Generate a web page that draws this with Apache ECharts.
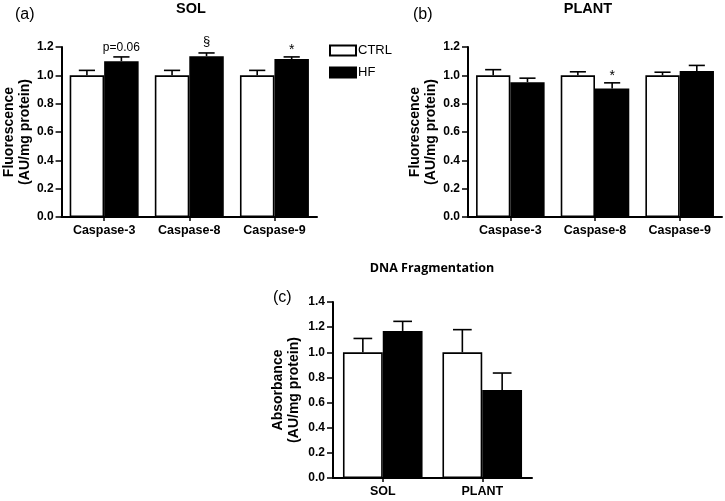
<!DOCTYPE html>
<html><head><meta charset="utf-8">
<script src="https://cdn.jsdelivr.net/npm/echarts@6/dist/echarts.min.js"></script>
<style>html,body{margin:0;padding:0;background:#fff}#c{width:725px;height:501px}</style>
</head><body><div id="c"></div>
<script>
// ---- data ----
var caspCats = ['Caspase-3', 'Caspase-8', 'Caspase-9'];
var dnaCats = ['SOL', 'PLANT'];
var yTicksA = [0, 0.2, 0.4, 0.6, 0.8, 1.0, 1.2];
var yTicksC = [0, 0.2, 0.4, 0.6, 0.8, 1.0, 1.2, 1.4];

var solCtrl = [1.0, 1.0, 1.0];
var solCtrlErr = [0.035, 0.035, 0.035];
var solHf = [1.10, 1.135, 1.115];
var solHfErr = [0.03, 0.023, 0.015];
var solHfNote = ['p=0.06', '§', '*'];

var plantCtrl = [1.0, 1.0, 1.0];
var plantCtrlErr = [0.04, 0.025, 0.022];
var plantHf = [0.952, 0.907, 1.03];
var plantHfErr = [0.028, 0.04, 0.04];
var plantHfNote = ['', '*', ''];

var dnaCtrl = [1.0, 1.0];
var dnaCtrlErr = [0.11, 0.18];
var dnaHf = [1.17, 0.70];
var dnaHfErr = [0.076, 0.135];

var FONT = 'Liberation Sans';
var GAP_AB = 0.19, GAP_C = 0.20;

function errSeries(name, gi, vals, errs, notes, sign, gap, noteStyle) {
  var data = vals.map(function (v, i) { return [i, v, errs[i]]; });
  return {
    type: 'custom', name: name + '_err', xAxisIndex: gi, yAxisIndex: gi, z: 5,
    silent: true, tooltip: { show: false },
    data: data,
    renderItem: function (params, api) {
      var x = api.value(0), v = api.value(1), e = api.value(2);
      var base = api.coord([x, v]);
      var top = api.coord([x, v + e]);
      var bw = api.size([1, 0])[0] * (1 - gap) / 2;
      var cx = base[0] + sign * bw / 2;
      var capW = bw * 0.47;
      var st = { stroke: '#000', lineWidth: 1.6 };
      var ch = [
        { type: 'line', shape: { x1: cx, y1: base[1], x2: cx, y2: top[1] }, style: st },
        { type: 'line', shape: { x1: cx - capW / 2, y1: top[1], x2: cx + capW / 2, y2: top[1] }, style: st }
      ];
      var n = notes ? notes[params.dataIndex] : '';
      if (n) {
        var s = noteStyle[n] || noteStyle['default'];
        ch.push({ type: 'text', x: cx, y: top[1] - s.dy,
          style: { text: n, font: s.font, fill: '#000', align: 'center', verticalAlign: 'bottom' } });
      }
      return { type: 'group', children: ch };
    }
  };
}

function barSeries(name, gi, vals, fill, gap) {
  return {
    type: 'bar', name: name, xAxisIndex: gi, yAxisIndex: gi, data: vals,
    barGap: '0%', barCategoryGap: (gap * 100) + '%',
    itemStyle: { color: fill, borderColor: '#000', borderWidth: 1.6 },
    z: 2
  };
}

var noteStyle = {
  'p=0.06': { font: '12px ' + FONT, dy: 3 },
  '§': { font: '13px ' + FONT, dy: 5 },
  '*': { font: '14px ' + FONT, dy: 0 },
  'default': { font: '13px ' + FONT, dy: 2 }
};

function xAxis(gi, cats) {
  return {
    type: 'category', gridIndex: gi, data: cats,
    axisLine: { lineStyle: { color: '#000', width: 2 } },
    axisTick: { show: true, alignWithLabel: true, length: 4, lineStyle: { color: '#000', width: 1.5 } },
    axisLabel: { color: '#000', fontFamily: FONT, fontWeight: 'bold', fontSize: 12.5, margin: 7 },
    splitLine: { show: false }
  };
}
function yAxis(gi, ticks, name, gap) {
  return {
    type: 'value', gridIndex: gi, min: ticks[0], max: ticks[ticks.length - 1], interval: 0.2,
    name: name, nameLocation: 'middle', nameRotate: 90, nameGap: gap,
    nameTextStyle: { color: '#000', fontFamily: FONT, fontWeight: 'bold', fontSize: 14, lineHeight: 16 },
    axisLine: { show: true, lineStyle: { color: '#000', width: 2 } },
    axisTick: { show: true, length: 6, lineStyle: { color: '#000', width: 1.5 } },
    axisLabel: { color: '#000', fontFamily: FONT, fontWeight: 'bold', fontSize: 12, margin: 8,
      formatter: function (v) { return v.toFixed(1); } },
    splitLine: { show: false }
  };
}

var titleStyle = { color: '#000', fontFamily: FONT, fontWeight: 'bold', fontSize: 14.5 };
var panelStyle = { color: '#000', fontFamily: FONT, fontWeight: 'normal', fontSize: 16 };

var option = {
  animation: false,
  backgroundColor: '#fff',
  title: [
    { text: 'SOL', left: 191, top: 1, padding: 0, textAlign: 'center', textStyle: titleStyle },
    { text: 'PLANT', left: 588, top: 1, padding: 0, textAlign: 'center', textStyle: titleStyle },
    { text: 'DNA Fragmentation', left: 432, top: 262, padding: 0, textAlign: 'center', textStyle: { color: '#000', fontFamily: 'Open Sans', fontWeight: 'bold', fontSize: 12.5 } },
    { text: '(a)', left: 15, top: 7, padding: 0, textStyle: panelStyle },
    { text: '(b)', left: 413, top: 7, padding: 0, textStyle: panelStyle },
    { text: '(c)', left: 273, top: 290, padding: 0, textStyle: panelStyle }
  ],
  legend: {
    data: ['CTRL', 'HF'], orient: 'vertical', left: 329, top: 44,
    itemWidth: 26, itemHeight: 10, itemGap: 9, icon: 'rect',
    textStyle: { color: '#000', fontFamily: FONT, fontSize: 13, padding: [0, 0, 0, -3] },
    padding: 0
  },
  grid: [
    { left: 61, top: 47, width: 256, height: 170 },
    { left: 468, top: 47, width: 254, height: 170 },
    { left: 333, top: 302, width: 199, height: 176 }
  ],
  xAxis: [xAxis(0, caspCats), xAxis(1, caspCats), xAxis(2, dnaCats)],
  yAxis: [
    yAxis(0, yTicksA, 'Fluorescence\n(AU/mg protein)', 26),
    yAxis(1, yTicksA, 'Fluorescence\n(AU/mg protein)', 26),
    yAxis(2, yTicksC, 'Absorbance\n(AU/mg protein)', 31)
  ],
  series: [
    barSeries('CTRL', 0, solCtrl, '#fff', GAP_AB),
    barSeries('HF', 0, solHf, '#000', GAP_AB),
    barSeries('CTRL', 1, plantCtrl, '#fff', GAP_AB),
    barSeries('HF', 1, plantHf, '#000', GAP_AB),
    barSeries('CTRL', 2, dnaCtrl, '#fff', GAP_C),
    barSeries('HF', 2, dnaHf, '#000', GAP_C),
    errSeries('CTRL', 0, solCtrl, solCtrlErr, null, -1, GAP_AB, noteStyle),
    errSeries('HF', 0, solHf, solHfErr, solHfNote, 1, GAP_AB, noteStyle),
    errSeries('CTRL', 1, plantCtrl, plantCtrlErr, null, -1, GAP_AB, noteStyle),
    errSeries('HF', 1, plantHf, plantHfErr, plantHfNote, 1, GAP_AB, noteStyle),
    errSeries('CTRL', 2, dnaCtrl, dnaCtrlErr, null, -1, GAP_C, noteStyle),
    errSeries('HF', 2, dnaHf, dnaHfErr, null, 1, GAP_C, noteStyle)
  ]
};
var chart = echarts.init(document.getElementById('c'), null, { renderer: 'canvas' });
chart.setOption(option);
</script></body></html>
